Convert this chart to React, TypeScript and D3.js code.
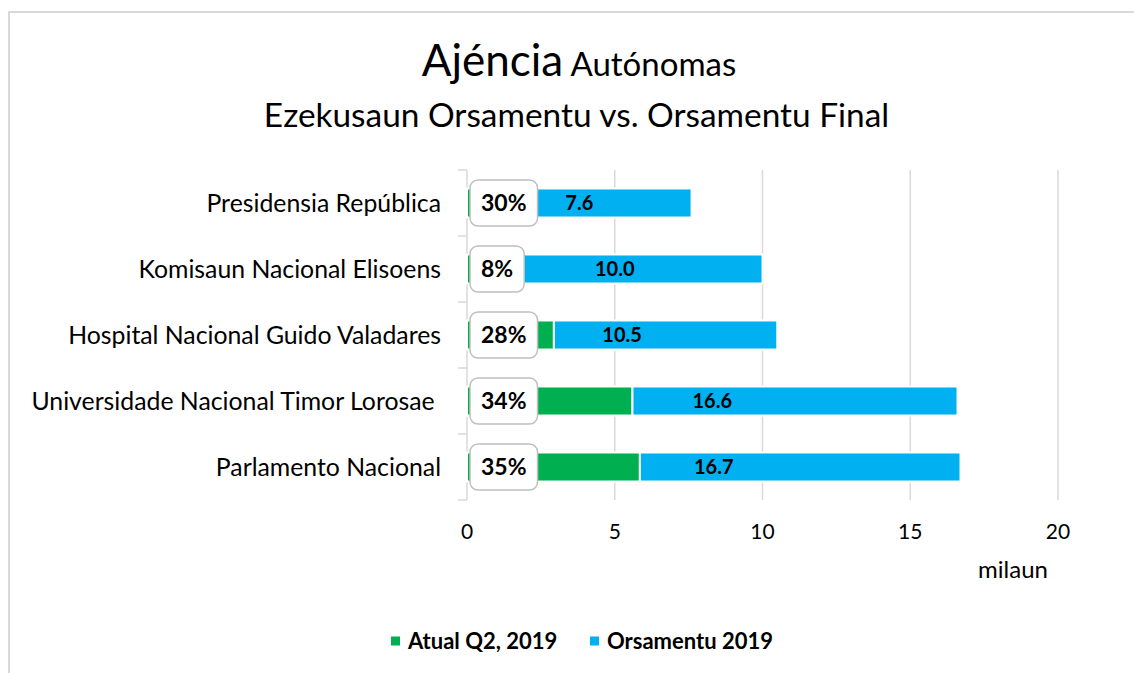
import React, { useEffect, useRef } from 'react';
import * as d3 from 'd3';

const categories = [
  'Presidensia República',
  'Komisaun Nacional Elisoens',
  'Hospital Nacional Guido Valadares',
  'Universidade Nacional Timor Lorosae ',
  'Parlamento Nacional',
];
// milaun
const orsamentu = [7.6, 10.0, 10.5, 16.6, 16.7];
const atual = [2.28, 0.8, 2.94, 5.6, 5.85];
const seriesNames = ['Atual Q2, 2019', 'Orsamentu 2019'];
const xTicks = [0, 5, 10, 15, 20];

const GREEN = '#00B050';
const BLUE = '#00B0F0';
const GRID = '#d9d9d9';
const FONT = 'Lato, sans-serif';

const App = () => {
  const ref = useRef<SVGSVGElement>(null);

  useEffect(() => {
    const svg = d3.select(ref.current);
    svg.selectAll('*').remove();

    const width = 1134;
    const height = 673;

    svg.append('rect').attr('width', width).attr('height', height).attr('fill', 'white');
    // borda do gráfico
    svg.append('rect')
      .attr('x', 9).attr('y', 12)
      .attr('width', width + 50).attr('height', height + 50)
      .attr('fill', 'white').attr('stroke', GRID).attr('stroke-width', 2);

    const x = d3.scaleLinear().domain([0, 20]).range([467, 1058]);
    const y = d3.scaleBand<string>()
      .domain(categories)
      .range([170, 500])
      .paddingInner(0.56)
      .paddingOuter(0.28);

    const rows = categories.map((c, i) => ({
      name: c,
      atual: atual[i],
      rest: orsamentu[i] - atual[i],
      total: orsamentu[i],
    }));

    // grelha
    svg.append('g')
      .selectAll('line')
      .data(xTicks)
      .join('line')
      .attr('x1', d => x(d)).attr('x2', d => x(d))
      .attr('y1', 170).attr('y2', 500)
      .attr('stroke', GRID).attr('stroke-width', 1.5);

    // marcas do eixo y
    const bounds = [170, ...categories.map(c => y(c)! + y.bandwidth() + (y.step() - y.bandwidth()) / 2)];
    svg.append('g')
      .selectAll('line')
      .data(bounds)
      .join('line')
      .attr('x1', x(0) - 9).attr('x2', x(0))
      .attr('y1', d => d).attr('y2', d => d)
      .attr('stroke', GRID).attr('stroke-width', 1.5);

    const stack = d3.stack<any>().keys(['atual', 'rest']);
    const stacked = stack(rows);
    const colors = [GREEN, BLUE];

    svg.append('g')
      .selectAll('g')
      .data(stacked)
      .join('g')
      .attr('fill', (_, i) => colors[i])
      .selectAll('rect')
      .data(d => d)
      .join('rect')
      .attr('x', d => x(d[0]))
      .attr('width', d => x(d[1]) - x(d[0]))
      .attr('y', d => y(d.data.name)!)
      .attr('height', y.bandwidth())
      .attr('stroke', 'white')
      .attr('stroke-width', 2);

    // valores do orsamentu
    svg.append('g')
      .selectAll('text')
      .data(rows)
      .join('text')
      .attr('x', d => x(d.total / 2))
      .attr('y', d => y(d.name)! + y.bandwidth() / 2)
      .attr('dy', '0.36em')
      .attr('text-anchor', 'middle')
      .attr('font-family', FONT)
      .attr('font-weight', 700)
      .attr('font-size', 20)
      .text(d => d.total.toFixed(1));

    // caixas com percentagem
    const boxes = svg.append('g')
      .selectAll('g')
      .data(rows)
      .join('g');
    const boxText = boxes.append('text')
      .attr('text-anchor', 'middle')
      .attr('font-family', FONT)
      .attr('font-weight', 700)
      .attr('font-size', 23)
      .attr('dy', '0.36em')
      .text(d => `${Math.round((d.atual / d.total) * 100)}%`);
    boxText.each(function (d: any) {
      const w = (this as SVGTextElement).getComputedTextLength() + 22;
      const cy = y(d.name)! + y.bandwidth() / 2;
      const left = x(0) + 3;
      d3.select((this as SVGTextElement).parentNode as SVGGElement)
        .insert('rect', 'text')
        .attr('x', left).attr('y', cy - 23)
        .attr('width', w).attr('height', 46)
        .attr('rx', 8)
        .attr('fill', 'white')
        .attr('stroke', '#bfbfbf')
        .attr('stroke-width', 1.5);
      d3.select(this).attr('x', left + w / 2).attr('y', cy);
    });

    // rótulos das categorias
    svg.append('g')
      .selectAll('text')
      .data(categories)
      .join('text')
      .attr('x', 441)
      .attr('y', d => y(d)! + y.bandwidth() / 2)
      .attr('dy', '0.35em')
      .attr('text-anchor', 'end')
      .attr('font-family', FONT)
      .attr('font-size', 24.8)
      .style('white-space', 'pre')
      .text(d => d);

    // eixo x
    svg.append('g')
      .selectAll('text')
      .data(xTicks)
      .join('text')
      .attr('x', d => x(d))
      .attr('y', 539)
      .attr('text-anchor', 'middle')
      .attr('font-family', FONT)
      .attr('font-size', 21)
      .text(d => d);

    svg.append('text')
      .attr('x', 1013).attr('y', 578)
      .attr('text-anchor', 'middle')
      .attr('font-family', FONT)
      .attr('font-size', 24)
      .text('milaun');

    // título
    const title = svg.append('text')
      .attr('x', 579).attr('y', 76)
      .attr('text-anchor', 'middle')
      .attr('font-family', FONT);
    title.append('tspan').attr('font-size', 44).text('Ajéncia');
    title.append('tspan').attr('font-size', 33).text(' Autónomas');

    svg.append('text')
      .attr('x', 576.5).attr('y', 127)
      .attr('text-anchor', 'middle')
      .attr('font-family', FONT)
      .attr('font-size', 33.4)
      .text('Ezekusaun Orsamentu vs. Orsamentu Final');

    // legenda
    const legendX = [391, 590];
    const legend = svg.append('g')
      .selectAll('g')
      .data(seriesNames)
      .join('g')
      .attr('transform', (_, i) => `translate(${legendX[i]},641)`);
    legend.append('rect')
      .attr('x', 0).attr('y', -4.5)
      .attr('width', 9).attr('height', 9)
      .attr('fill', (_, i) => colors[i]);
    legend.append('text')
      .attr('x', 17)
      .attr('dy', '0.36em')
      .attr('font-family', FONT)
      .attr('font-weight', 700)
      .attr('font-size', 22)
      .text(d => d);
  }, []);

  return (
    <svg
      ref={ref}
      width={1134}
      height={673}
      style={{ position: 'absolute', left: 0, top: 0, display: 'block' }}
    />
  );
};

export default App;
